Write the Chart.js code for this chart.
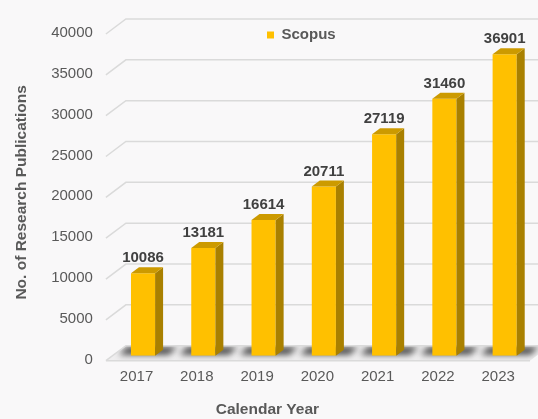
<!DOCTYPE html>
<html>
<head>
<meta charset="utf-8">
<script src="https://cdn.jsdelivr.net/npm/chart.js@4.4.1/dist/chart.umd.min.js"></script>
<style>
  html, body { margin: 0; padding: 0; background: #f9f8f9; }
  canvas { display: block; }
</style>
</head>
<body>
<canvas id="chart" width="538" height="419"></canvas>
<script>
const years = ['2017', '2018', '2019', '2020', '2021', '2022', '2023'];
const scopus = [10086, 13181, 16614, 20711, 27119, 31460, 36901];
const yTicks = [0, 5000, 10000, 15000, 20000, 25000, 30000, 35000, 40000];

const FONT = '"Liberation Sans", Arial, sans-serif';
const TEXT = '#595959';
const BAR_DX = 8, BAR_DY = -6;      // depth of each bar
const WALL_FRONT = -7, WALL_BACK = 13; // x offsets of the 3d walls from the plot left

// fake 3d: back wall grid lines, floor and bar shadows
const walls = {
  id: 'walls',
  beforeDatasetsDraw(chart) {
    const { ctx, chartArea: a, scales: { y } } = chart;
    const fx = a.left + WALL_FRONT, bx = a.left + WALL_BACK, right = chart.width + 12;
    const y0 = y.getPixelForValue(0);

    ctx.save();
    ctx.beginPath();
    ctx.moveTo(fx, y0 + 5);
    ctx.lineTo(bx, y0 - 10);
    ctx.lineTo(right, y0 - 10);
    ctx.lineTo(right - 20, y0 + 5);
    ctx.closePath();
    ctx.fillStyle = '#efeeef';
    ctx.fill();
    ctx.clip();
    ctx.filter = 'blur(3px)';
    ctx.fillStyle = 'rgba(20,20,20,0.75)';
    chart.getDatasetMeta(0).data.forEach(bar => {
      const l = bar.x - bar.width / 2, r = bar.x + bar.width / 2, b = bar.base;
      ctx.beginPath();
      ctx.moveTo(l - 12, b - 1);
      ctx.lineTo(r + 14, b - 1);
      ctx.lineTo(r + 22, b - 9);
      ctx.lineTo(l - 4, b - 9);
      ctx.closePath();
      ctx.fill();
    });
    ctx.restore();

    ctx.save();
    ctx.strokeStyle = '#dadada';
    ctx.lineWidth = 1.5;
    ctx.beginPath();
    yTicks.forEach(v => {
      const py = y.getPixelForValue(v);
      ctx.moveTo(fx, py + 5);
      ctx.lineTo(bx, py - 10);
      ctx.lineTo(right, py - 10);
    });
    ctx.moveTo(fx, y0 + 5);
    ctx.lineTo(right - 20, y0 + 5);
    ctx.stroke();
    ctx.restore();
  },
  afterDatasetsDraw(chart) {
    const { ctx } = chart;
    const values = chart.data.datasets[0].data;
    ctx.save();
    chart.getDatasetMeta(0).data.forEach((bar, i) => {
      const l = bar.x - bar.width / 2, r = bar.x + bar.width / 2, t = bar.y, b = bar.base;
      ctx.fillStyle = '#a98000';
      ctx.beginPath();
      ctx.moveTo(r, t);
      ctx.lineTo(r + BAR_DX, t + BAR_DY);
      ctx.lineTo(r + BAR_DX, b + BAR_DY);
      ctx.lineTo(r, b);
      ctx.closePath();
      ctx.fill();
      ctx.fillStyle = '#cc9a00';
      ctx.beginPath();
      ctx.moveTo(l, t);
      ctx.lineTo(l + BAR_DX, t + BAR_DY);
      ctx.lineTo(r + BAR_DX, t + BAR_DY);
      ctx.lineTo(r, t);
      ctx.closePath();
      ctx.fill();

      ctx.fillStyle = '#404040';
      ctx.font = 'bold 15px ' + FONT;
      ctx.textAlign = 'center';
      ctx.textBaseline = 'middle';
      ctx.fillText(String(values[i]), bar.x, t - 15);
    });
    ctx.restore();
  },
  // put the legend inside the plot, like the original
  afterLayout(chart) {
    const lg = chart.legend;
    lg.left = 267; lg.right = 380;
    lg.top = 27.5; lg.bottom = 50;
    lg.width = lg.right - lg.left;
    lg.height = lg.bottom - lg.top;
  }
};

new Chart(document.getElementById('chart'), {
  type: 'bar',
  data: {
    labels: years,
    datasets: [{
      label: 'Scopus',
      data: scopus,
      backgroundColor: '#ffc000',
      borderWidth: 0,
      barPercentage: 0.5,
      categoryPercentage: 0.8
    }]
  },
  options: {
    responsive: false,
    animation: false,
    layout: { padding: { top: 22.5, right: 3.2, left: 0, bottom: 0 } },
    plugins: {
      tooltip: { enabled: false },
      legend: {
        position: 'chartArea',
        align: 'start',
        labels: {
          boxWidth: 7,
          boxHeight: 7,
          padding: 0,
          color: TEXT,
          font: { family: FONT, size: 15, weight: 'bold' }
        }
      },
      title: {
        display: true,
        position: 'bottom',
        text: 'Calendar Year',
        color: TEXT,
        padding: { top: 0, bottom: 0 },
        font: { family: FONT, size: 15.5, weight: 'bold', lineHeight: 1.2 }
      }
    },
    scales: {
      x: {
        grid: { display: false, drawTicks: false },
        border: { display: false },
        ticks: {
          color: TEXT,
          padding: 12,
          labelOffset: -6.5,
          maxRotation: 0,
          font: { family: FONT, size: 15 }
        },
        afterFit(s) { s.height = 44.7; }
      },
      y: {
        min: 0,
        max: 40000,
        grid: { display: false, drawTicks: false },
        border: { display: false },
        afterBuildTicks(s) { s.ticks = yTicks.map(v => ({ value: v })); },
        ticks: {
          color: TEXT,
          padding: 20,
          labelOffset: 4,
          font: { family: FONT, size: 15 },
          callback: v => String(v)
        },
        title: {
          display: true,
          text: 'No. of Research Publications',
          color: TEXT,
          padding: { top: 12, bottom: 0 },
          font: { family: FONT, size: 15.5, weight: 'bold', lineHeight: 1.2 }
        },
        afterFit(s) { s.width = 112.9; }
      }
    }
  },
  plugins: [walls]
});
</script>
</body>
</html>
